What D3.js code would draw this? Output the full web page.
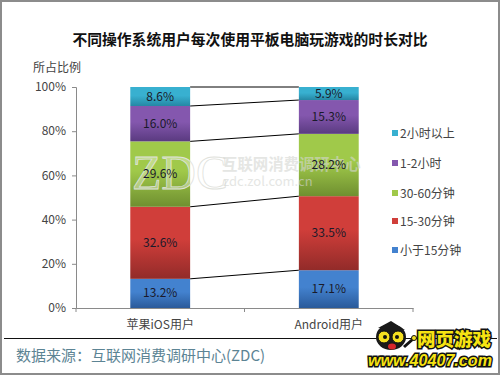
<!DOCTYPE html>
<html>
<head>
<meta charset="utf-8">
<script src="https://cdn.jsdelivr.net/npm/d3@7"></script>
<style>
html, body { margin: 0; padding: 0; background: #fff; }
svg { display: block; }
text { font-family: "Noto Sans CJK SC", "DejaVu Sans", sans-serif; }
</style>
</head>
<body>
<div id="chart"></div>
<script>
// data
const categories = ['苹果iOS用户', 'Android用户'];
const seriesNames = ['小于15分钟', '15-30分钟', '30-60分钟', '1-2小时', '2小时以上'];
const under15 = [13.2, 17.1];
const min15to30 = [32.6, 33.5];
const min30to60 = [29.6, 28.2];
const hour1to2 = [16.0, 15.3];
const over2h = [8.6, 5.9];
const yTicks = [0, 20, 40, 60, 80, 100];

const seriesValues = [under15, min15to30, min30to60, hour1to2, over2h];
const colors = [
  ['#4382cf', '#2a5a9a'],
  ['#d03e3a', '#922b29'],
  ['#a0c94a', '#6f8f30'],
  ['#8457ae', '#5a3a80'],
  ['#38b0d0', '#2587a4']
];
const legendY = [250, 221, 193, 163, 133];

const width = 500, height = 375;
const svg = d3.select('#chart').append('svg')
  .attr('width', width)
  .attr('height', height);

// outer frame
svg.append('rect')
  .attr('x', 1).attr('y', 1)
  .attr('width', width - 2).attr('height', height - 2)
  .attr('fill', '#fff').attr('stroke', '#8c8c8c').attr('stroke-width', 2);

// gradients for the bars
const defs = svg.append('defs');
colors.forEach((c, i) => {
  const g = defs.append('linearGradient')
    .attr('id', 'grad' + i)
    .attr('x1', 0).attr('y1', 0).attr('x2', 0).attr('y2', 1);
  g.append('stop').attr('offset', '0%').attr('stop-color', c[0]);
  g.append('stop').attr('offset', '45%').attr('stop-color', c[0]);
  g.append('stop').attr('offset', '100%').attr('stop-color', c[1]);
});

const x = d3.scaleBand().domain(categories).range([76, 413]).paddingInner(0.645).paddingOuter(0.322);
const y = d3.scaleLinear().domain([0, 100]).range([308, 87]);

const rows = categories.map((c, i) => {
  const row = { category: c };
  seriesNames.forEach((s, j) => { row[s] = seriesValues[j][i]; });
  return row;
});
const stacked = d3.stack().keys(seriesNames)(rows);

// title
svg.append('text')
  .attr('x', 250).attr('y', 45)
  .attr('text-anchor', 'middle')
  .attr('font-size', 14.8)
  .attr('font-weight', 700)
  .attr('fill', '#111')
  .text('不同操作系统用户每次使用平板电脑玩游戏的时长对比');

svg.append('text')
  .attr('x', 33).attr('y', 72)
  .attr('font-size', 12)
  .attr('fill', '#444')
  .text('所占比例');

// axes
const yAxis = d3.axisLeft(y).tickValues(yTicks).tickSize(4).tickPadding(6).tickFormat(d => d + '%');
const yG = svg.append('g').attr('transform', 'translate(76,0)').call(yAxis);
const xAxis = d3.axisBottom(x).tickSize(0).tickPadding(12);
const xG = svg.append('g').attr('transform', 'translate(0,308)').call(xAxis);
[yG, xG].forEach(g => {
  g.selectAll('path, line').attr('stroke', '#8a8a8a');
  g.selectAll('text').attr('font-size', 12).attr('fill', '#444')
    .style('font-family', '"Noto Sans CJK SC", sans-serif');
});
yG.selectAll('text').attr('dy', '0.3em');

// category divider ticks on the x axis
svg.append('g').selectAll('line')
  .data([76, 244.5, 413])
  .join('line')
  .attr('x1', d => d).attr('x2', d => d)
  .attr('y1', 308).attr('y2', 312)
  .attr('stroke', '#8a8a8a');

// connector lines between the bars
svg.append('g').selectAll('line')
  .data(stacked)
  .join('line')
  .attr('x1', x(categories[0]) + x.bandwidth())
  .attr('x2', x(categories[1]))
  .attr('y1', d => y(d[0][1]))
  .attr('y2', d => y(d[1][1]))
  .attr('stroke', '#000')
  .attr('stroke-width', 1);

// stacked bars
const layers = svg.append('g').selectAll('g')
  .data(stacked)
  .join('g')
  .attr('fill', (d, i) => `url(#grad${i})`);
layers.selectAll('rect')
  .data(d => d.map(v => ({ v, cat: v.data.category })))
  .join('rect')
  .attr('x', d => x(d.cat))
  .attr('width', x.bandwidth())
  .attr('y', d => y(d.v[1]))
  .attr('height', d => y(d.v[0]) - y(d.v[1]));

// watermark sits between the bars and their labels
const mark = svg.append('g');
mark.append('text')
  .attr('x', 132).attr('y', 189)
  .attr('font-size', 48)
  .style('font-family', '"Liberation Serif", serif')
  .attr('fill', '#fff').attr('fill-opacity', 0.35)
  .attr('stroke', '#dfe2dc').attr('stroke-width', 0.8)
  .text('ZDC');
const markText = mark.append('g').attr('fill', '#d4d6d2').attr('opacity', 0.6);
markText.append('text').attr('x', 222).attr('y', 170).attr('font-size', 15.4).attr('font-weight', 700).text('互联网消费调研中心');
markText.append('text').attr('x', 223).attr('y', 186).attr('font-size', 13).text('zdc.zol.com.cn');

// bar value labels
const labels = svg.append('g').selectAll('g')
  .data(stacked)
  .join('g');
labels.selectAll('text')
  .data(d => d.map(v => ({ v, cat: v.data.category })))
  .join('text')
  .attr('x', d => x(d.cat) + x.bandwidth() / 2)
  .attr('y', d => (y(d.v[0]) + y(d.v[1])) / 2 + 4)
  .attr('text-anchor', 'middle')
  .attr('font-size', 12)
  .attr('fill', '#1a1a2a')
  .text(d => (d.v[1] - d.v[0]).toFixed(1) + '%');

// legend
const legend = svg.append('g').selectAll('g')
  .data(seriesNames)
  .join('g')
  .attr('transform', (d, i) => `translate(392,${legendY[i]})`);
legend.append('rect')
  .attr('x', 0).attr('y', -3)
  .attr('width', 6).attr('height', 6)
  .attr('fill', (d, i) => colors[i][0]);
legend.append('text')
  .attr('x', 8).attr('y', 4.5)
  .attr('font-size', 12)
  .attr('fill', '#444')
  .text(d => d);

// footer
svg.append('line')
  .attr('x1', 4).attr('x2', 497)
  .attr('y1', 338.5).attr('y2', 338.5)
  .attr('stroke', '#111');
svg.append('text')
  .attr('x', 16).attr('y', 361)
  .attr('font-size', 15)
  .attr('fill', '#5c8494')
  .text('数据来源：互联网消费调研中心(ZDC)');

// site logo, bottom right
const logo = svg.append('g');
logo.append('path').attr('d', d3.line()([[404, 347], [413, 339]])).attr('stroke', '#111').attr('stroke-width', 3);
logo.append('circle').attr('cx', 414).attr('cy', 338).attr('r', 2.5).attr('fill', '#f5e020').attr('stroke', '#111');
logo.append('path').attr('d', d3.line()([[378, 328], [391, 321], [405, 330]])).attr('fill', '#1a1a1a');
logo.append('ellipse').attr('cx', 391).attr('cy', 337).attr('rx', 15).attr('ry', 13).attr('fill', '#1a1a1a');
logo.append('circle').attr('cx', 384).attr('cy', 337).attr('r', 6).attr('fill', '#f5e020').attr('stroke', '#111');
logo.append('circle').attr('cx', 398).attr('cy', 337).attr('r', 6).attr('fill', '#f5e020').attr('stroke', '#111');
logo.append('circle').attr('cx', 385).attr('cy', 337).attr('r', 2).attr('fill', '#111');
logo.append('circle').attr('cx', 397).attr('cy', 337).attr('r', 2).attr('fill', '#111');
logo.append('ellipse').attr('cx', 392).attr('cy', 346.5).attr('rx', 4).attr('ry', 3).attr('fill', '#d8262a');
logo.append('text')
  .attr('x', 417).attr('y', 346)
  .attr('font-size', 18.5).attr('font-weight', 900)
  .attr('fill', '#f6e312').attr('stroke', '#111').attr('stroke-width', 3)
  .attr('paint-order', 'stroke')
  .text('网页游戏');
logo.append('text')
  .attr('x', 368).attr('y', 366)
  .attr('font-size', 17).attr('font-weight', 700).attr('font-style', 'italic')
  .attr('textLength', 124).attr('lengthAdjust', 'spacingAndGlyphs')
  .style('font-family', '"Liberation Sans", sans-serif')
  .attr('fill', '#f6e312').attr('stroke', '#111').attr('stroke-width', 3)
  .attr('paint-order', 'stroke')
  .text('www.40407.com');
</script>
</body>
</html>
